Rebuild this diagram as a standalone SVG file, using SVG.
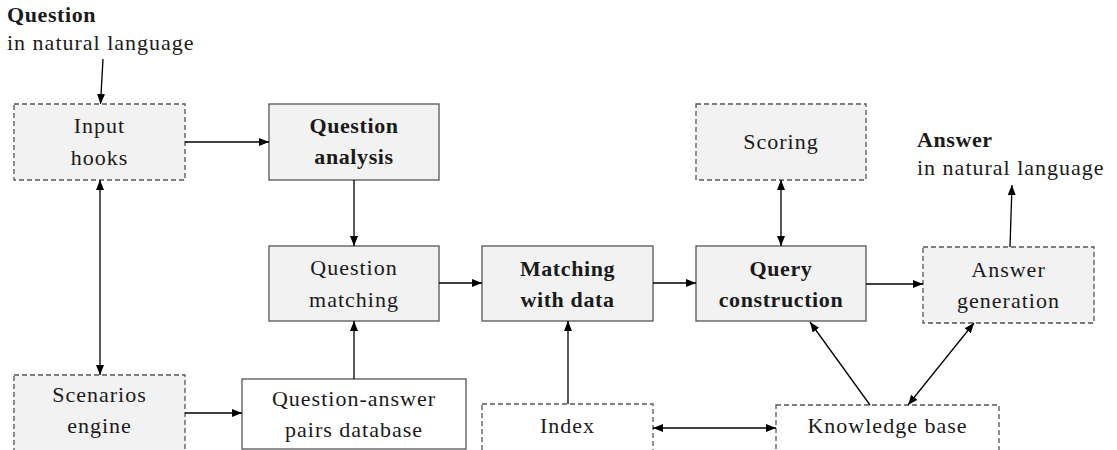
<svg xmlns="http://www.w3.org/2000/svg" width="1117" height="450" viewBox="0 0 1117 450">
  <defs>
    <marker id="arrow" viewBox="0 0 10 8" refX="10" refY="4" markerWidth="10" markerHeight="8" markerUnits="userSpaceOnUse" orient="auto-start-reverse">
      <path d="M0,0 L10,4 L0,8 z" fill="#000"/>
    </marker>
  </defs>
  <style>
    .box { fill: #f2f2f2; stroke: #555; stroke-width: 1.3; }
    .plain { fill: #fff; stroke: #555; stroke-width: 1.3; }
    .dashed { stroke-dasharray: 5 3; }
    .t { font-family: "Liberation Serif", Tinos, "Times New Roman", Times, "DejaVu Serif", "Noto Serif", serif; font-size: 22px; letter-spacing: 1px; fill: #1a1a1a; text-anchor: middle; }
    .b { font-weight: bold; letter-spacing: 0.6px; }
    .l { text-anchor: start; }
    .edge { stroke: #000; stroke-width: 1.3; fill: none; marker-end: url(#arrow); }
    .both { marker-start: url(#arrow); }
  </style>
  <rect width="1117" height="450" fill="#fff"/>

  <!-- free-standing labels -->
  <g id="question-label">
    <text class="t b l" x="7" y="22">Question</text>
    <text class="t l" x="7" y="50">in natural language</text>
  </g>
  <g id="answer-label">
    <text class="t b l" x="917" y="147">Answer</text>
    <text class="t l" x="917" y="175">in natural language</text>
  </g>

  <!-- nodes -->
  <g id="input-hooks">
    <rect class="box dashed" x="14" y="104" width="171" height="76"/>
    <text class="t" x="99.5" y="133">Input</text>
    <text class="t" x="99.5" y="165">hooks</text>
  </g>
  <g id="question-analysis">
    <rect class="box" x="269" y="104" width="170" height="76"/>
    <text class="t b" x="354" y="133">Question</text>
    <text class="t b" x="354" y="164">analysis</text>
  </g>
  <g id="scoring">
    <rect class="box dashed" x="696" y="104" width="170" height="76"/>
    <text class="t" x="781" y="149">Scoring</text>
  </g>
  <g id="question-matching">
    <rect class="box" x="269" y="246" width="170" height="75"/>
    <text class="t" x="354" y="275">Question</text>
    <text class="t" x="354" y="307">matching</text>
  </g>
  <g id="matching-with-data">
    <rect class="box" x="482" y="246" width="171" height="75"/>
    <text class="t b" x="567.5" y="276">Matching</text>
    <text class="t b" x="567.5" y="307">with data</text>
  </g>
  <g id="query-construction">
    <rect class="box" x="696" y="246" width="170" height="75"/>
    <text class="t b" x="781" y="276">Query</text>
    <text class="t b" x="781" y="307">construction</text>
  </g>
  <g id="answer-generation">
    <rect class="box dashed" x="923" y="247" width="171" height="76"/>
    <text class="t" x="1008.5" y="277">Answer</text>
    <text class="t" x="1008.5" y="308">generation</text>
  </g>
  <g id="scenarios-engine">
    <rect class="box dashed" x="14" y="375" width="171" height="76"/>
    <text class="t" x="99.5" y="402">Scenarios</text>
    <text class="t" x="99.5" y="433">engine</text>
  </g>
  <g id="qa-pairs-database">
    <rect class="plain" x="242" y="379" width="224" height="70"/>
    <text class="t" x="354" y="406">Question-answer</text>
    <text class="t" x="354" y="437">pairs database</text>
  </g>
  <g id="index">
    <rect class="plain dashed" x="482" y="404" width="171" height="48"/>
    <text class="t" x="567.5" y="433">Index</text>
  </g>
  <g id="knowledge-base">
    <rect class="plain dashed" x="776" y="405" width="223" height="47"/>
    <text class="t" x="887.5" y="433">Knowledge base</text>
  </g>

  <!-- connectors -->
  <g id="connectors">
    <line class="edge" x1="103" y1="59" x2="100.5" y2="104"/>
    <line class="edge" x1="185" y1="142" x2="269" y2="142"/>
    <line class="edge both" x1="100" y1="180" x2="100" y2="375"/>
    <line class="edge" x1="354" y1="180" x2="354" y2="246"/>
    <line class="edge" x1="439" y1="283" x2="482" y2="283"/>
    <line class="edge" x1="354" y1="379" x2="354" y2="321"/>
    <line class="edge" x1="185" y1="413" x2="242" y2="413"/>
    <line class="edge" x1="653" y1="283" x2="696" y2="283"/>
    <line class="edge" x1="568" y1="404" x2="568" y2="321"/>
    <line class="edge both" x1="653" y1="428" x2="776" y2="428"/>
    <line class="edge" x1="870" y1="405" x2="810" y2="322"/>
    <line class="edge both" x1="908" y1="405" x2="974" y2="323"/>
    <line class="edge both" x1="781" y1="180" x2="781" y2="246"/>
    <line class="edge" x1="866" y1="284" x2="923" y2="284"/>
    <line class="edge" x1="1010" y1="247" x2="1012" y2="185"/>
  </g>
</svg>
